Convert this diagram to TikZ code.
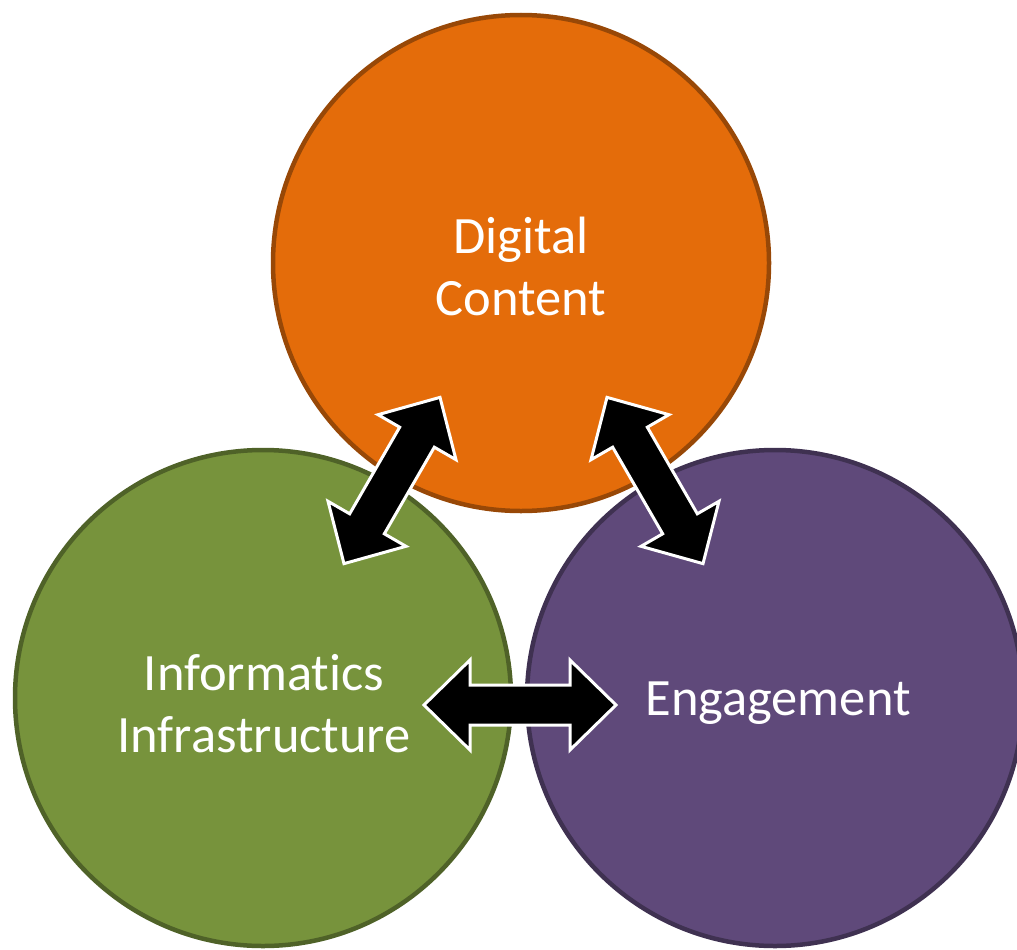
\documentclass[tikz,border=0pt]{standalone}
\usepackage{fontspec}
\setmainfont{Carlito}[Ligatures={NoCommon}]
\usetikzlibrary{calc}
\definecolor{orfill}{HTML}{E46C0A}
\definecolor{ordraw}{HTML}{984807}
\definecolor{grfill}{HTML}{77933C}
\definecolor{grdraw}{HTML}{4F6228}
\definecolor{pufill}{HTML}{5F497A}
\definecolor{pudraw}{HTML}{3F3151}
\begin{document}
\begin{tikzpicture}[x=1pt,y=-1pt,
  circ/.style={circle, line width=4.5pt, minimum size=496pt, inner sep=0pt},
  lbl/.style={text=white, font=\fontsize{52.5}{62}\selectfont, align=center},
  blockarrow/.style={fill=black, draw=white, line width=3pt, line join=miter}]
\useasboundingbox (0,0) rectangle (1017,950);
\node[circ, fill=orfill, draw=ordraw] (dc) at (521,263) {};
\node[circ, fill=grfill, draw=grdraw] (ii) at (263,698) {};
\node[circ, fill=pufill, draw=pudraw] (en) at (775,698) {};
\node[lbl] (dct) at (521,266) {Digital\\Content};
\node[lbl] (iit) at (264,704) {Informatics\\Infrastructure};
\node[lbl] (ent) at (778,703) {Engagement};
\coordinate (a1) at ($(dc)!0.5!(ii)$);
\coordinate (a2) at ($(dc)!0.5!(en)+(7,0)$);
\coordinate (a3) at ($(ii)!0.5!(en)+(1,7)$);
\def\blockshape{(-96,0) -- (-50,-45) -- (-50,-20) -- (50,-20) -- (50,-45) -- (96,0) -- (50,45) -- (50,20) -- (-50,20) -- (-50,45) -- cycle}
\draw[blockarrow, shift={(a1)}, rotate=60] \blockshape;
\draw[blockarrow, shift={(a2)}, rotate=-60] \blockshape;
\draw[blockarrow, shift={(a3)}] \blockshape;
\end{tikzpicture}
\end{document}
